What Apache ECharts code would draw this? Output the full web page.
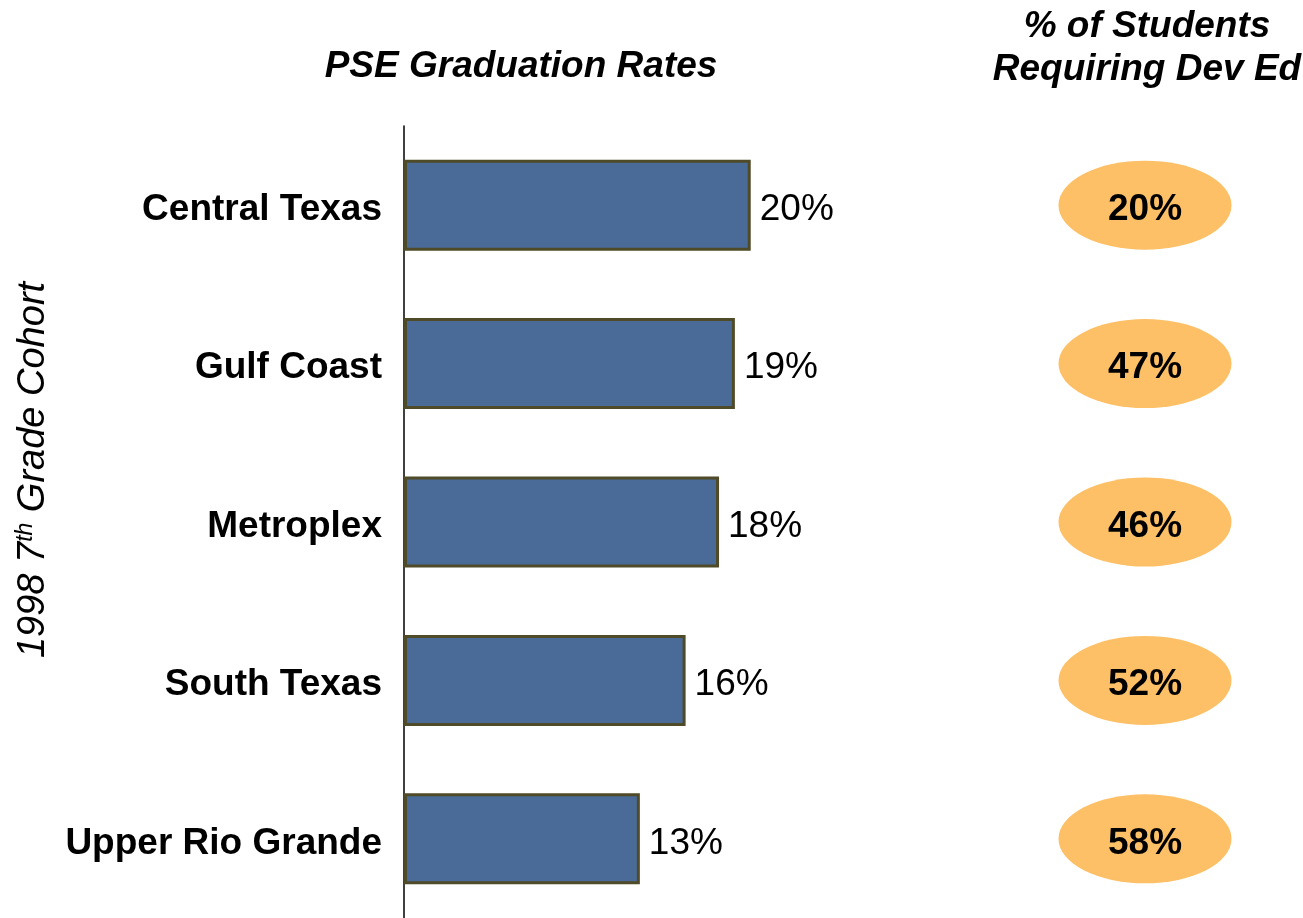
<!DOCTYPE html>
<html>
<head>
<meta charset="utf-8">
<script src="https://cdn.jsdelivr.net/npm/echarts@6/dist/echarts.min.js"></script>
<style>
  html, body { margin: 0; padding: 0; background: #fff; }
  #chart { width: 1303px; height: 918px; }
</style>
</head>
<body>
<div id="chart"></div>
<script>
// regions, top to bottom
var regions = ["Central Texas", "Gulf Coast", "Metroplex", "South Texas", "Upper Rio Grande"];
// PSE graduation rate (%), labels show the rounded value
var gradRates = [19.7, 18.8, 17.9, 16.0, 13.4];
// % of students requiring developmental education
var devEd = [20, 47, 46, 52, 58];

var font = "Arial, 'Liberation Sans', sans-serif";
// small downward nudge for the big labels
var nudge = { padding: [9, 0, 0, 0] };

var myChart = echarts.init(document.getElementById("chart"));

var option = {
  animation: false,
  textStyle: { fontFamily: font },
  title: [
    {
      text: "PSE Graduation Rates",
      left: 516,
      top: 43,
      textAlign: "center",
      textStyle: { fontFamily: font, fontSize: 37, fontWeight: "bold", fontStyle: "italic", color: "#000" }
    },
    {
      text: "% of Students\nRequiring Dev Ed",
      left: 1142,
      top: 0,
      textAlign: "center",
      textStyle: { fontFamily: font, fontSize: 37, fontWeight: "bold", fontStyle: "italic", color: "#000", lineHeight: 43 }
    }
  ],
  grid: [
    { left: 404, top: 126, width: 880, height: 797 },
    { left: 1059, top: 126, width: 172, height: 797 }
  ],
  xAxis: [
    { gridIndex: 0, type: "value", min: 0, max: 50, show: false },
    { gridIndex: 1, type: "category", data: ["devEd"], show: false }
  ],
  yAxis: [
    {
      gridIndex: 0,
      type: "category",
      inverse: true,
      data: regions,
      axisLine: { show: true, lineStyle: { color: "#000", width: 1.5 } },
      axisTick: { show: false },
      axisLabel: {
        fontFamily: font, fontSize: 37, fontWeight: "bold", color: "#000", margin: 22,
        formatter: function (v) { return "{v|" + v + "}"; },
        rich: { v: nudge }
      }
    },
    { gridIndex: 1, type: "category", inverse: true, data: regions, show: false }
  ],
  series: [
    {
      type: "bar",
      xAxisIndex: 0,
      yAxisIndex: 0,
      data: gradRates,
      barWidth: 91,
      itemStyle: { color: "#4A6A98", borderColor: "#4F4B28", borderWidth: 3 },
      label: {
        show: true,
        position: "right",
        distance: 9,
        fontFamily: font,
        fontSize: 37,
        color: "#000",
        formatter: function (p) { return "{v|" + Math.round(p.value) + "%}"; },
        rich: { v: nudge }
      }
    },
    {
      type: "scatter",
      xAxisIndex: 1,
      yAxisIndex: 1,
      symbol: "circle",
      symbolSize: [173, 89],
      data: devEd.map(function (v, i) { return [0, i, v]; }),
      itemStyle: { color: "#FDC066", opacity: 1 },
      label: {
        show: true,
        position: "inside",
        fontFamily: font,
        fontSize: 37,
        fontWeight: "bold",
        color: "#000",
        formatter: function (p) { return "{v|" + p.value[2] + "%}"; },
        rich: { v: nudge }
      }
    }
  ],
  graphic: [
    {
      type: "text",
      x: 33,
      y: 470,
      rotation: Math.PI / 2,
      style: {
        text: "1998 7{sup|th} Grade Cohort",
        font: "italic 38px " + font,
        fill: "#000",
        align: "center",
        verticalAlign: "middle",
        rich: {
          sup: { fontSize: 23, fontStyle: "italic", verticalAlign: "top", padding: [0, 0, 14, 0], fill: "#000" }
        }
      }
    }
  ]
};

myChart.setOption(option);
window.addEventListener("resize", function () {
  myChart.resize();
});
</script>
</body>
</html>
